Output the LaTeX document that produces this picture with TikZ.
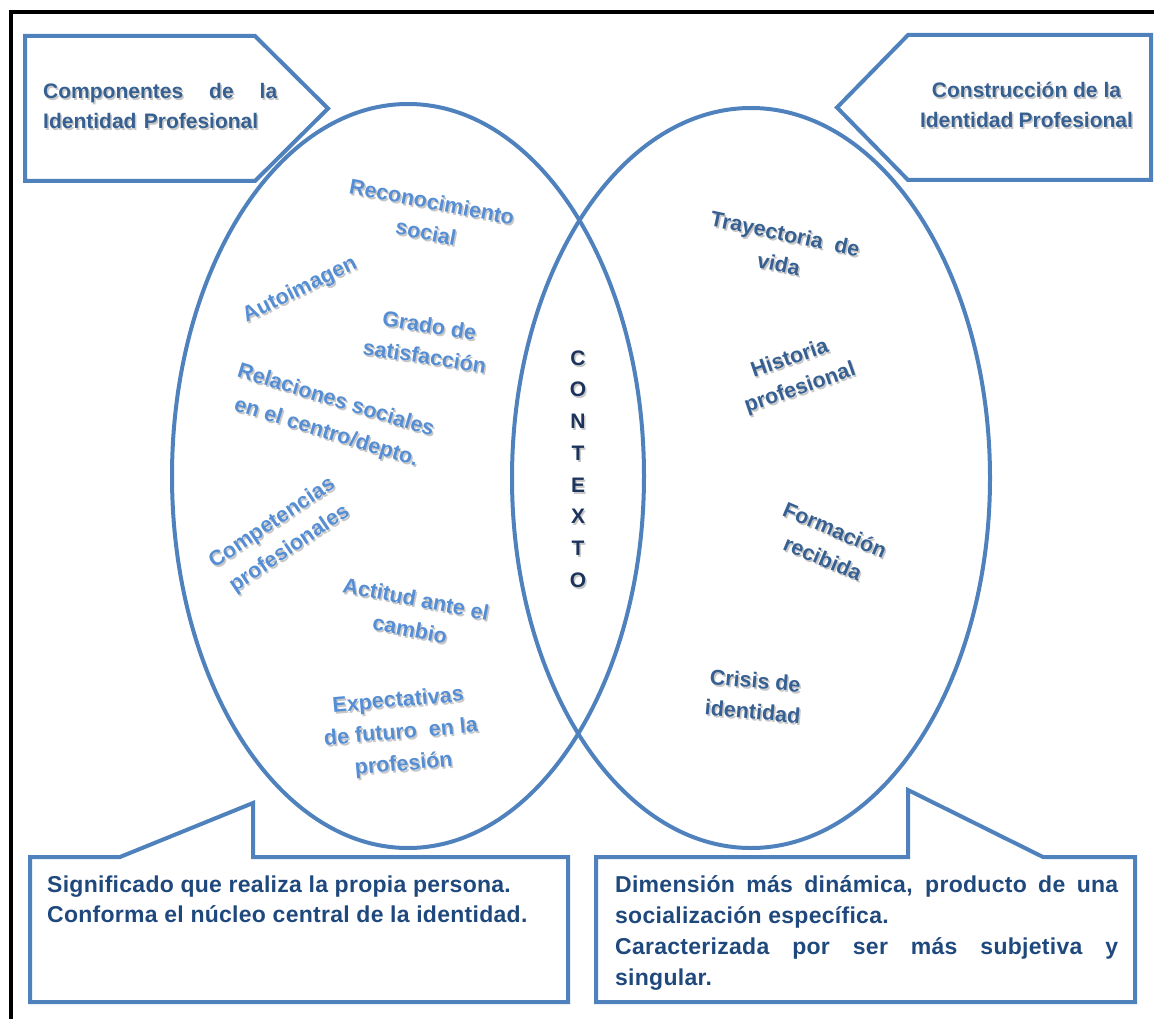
\documentclass[tikz,border=0pt]{standalone}
\usepackage{fontspec}
\setmainfont{Liberation Sans}
\newfontfamily\bubblefont{Liberation Sans}[LetterSpace=1.2]
\usetikzlibrary{calc}

\definecolor{shapeblue}{RGB}{79,129,189}
\definecolor{lightword}{RGB}{85,142,213}
\definecolor{midword}{RGB}{55,96,146}
\definecolor{navyword}{RGB}{28,52,92}
\definecolor{boxtextblue}{RGB}{31,73,125}

% text with a soft drop shadow: name, position, style, text
\newcommand\softlabel[4]{%
  \node[#3, text=black, text opacity=0.22] (#1-shadow) at ($(#2)+(1.5,2)$) {#4};
  \node[#3] (#1) at (#2) {#4};
}

\tikzset{
  shape line/.style={draw=shapeblue, line width=4pt, line join=miter},
  innerword/.style={font=\bfseries\fontsize{21.5}{31}\selectfont, align=center, inner sep=0pt},
  leftword/.style={innerword, text=lightword},
  rightword/.style={innerword, text=midword},
  titleword/.style={font=\bfseries\fontsize{21}{30}\selectfont, text=midword, inner sep=0pt},
  letterword/.style={font=\bfseries\fontsize{21}{31.7}\selectfont, text=navyword, align=center, inner sep=0pt},
  boxword/.style={font=\bubblefont\bfseries\fontsize{23}{30}\selectfont, text=boxtextblue, inner sep=0pt, align=left},
}

\begin{document}
\begin{tikzpicture}[x=1pt, y=-1pt]
\useasboundingbox (0,0) rectangle (1154,1019);

% outer frame (top and left edges)
\draw[line width=4pt, line join=miter] (10.5,1019) -- (10.5,12.5) -- (1154,12.5);

% the two overlapping ellipses
\draw[shape line] (408,476) ellipse [x radius=236, y radius=372];
\draw[shape line] (751,478) ellipse [x radius=239, y radius=370];

% heading arrows
\draw[shape line] (25,36) -- (255,36) -- (328,108.5) -- (255,181) -- (25,181) -- cycle;
\draw[shape line] (1151,35) -- (1151,180) -- (908,180) -- (837,107.5) -- (908,35) -- cycle;

% speech-bubble boxes
\draw[shape line] (30,857) -- (120,857) -- (253,803) -- (253,857) -- (568,857)
  -- (568,1002) -- (30,1002) -- cycle;
\draw[shape line] (596,857) -- (908,857) -- (908,790) -- (1043,857) -- (1135,857)
  -- (1135,1002) -- (596,1002) -- cycle;

% headings
\softlabel{compTitle}{43,83.5}{titleword, anchor=north west, align=left}
  {\makebox[234pt][s]{Componentes de la}\\\makebox[215pt][s]{Identidad Profesional}}
\softlabel{constTitle}{1026.5,82}{titleword, anchor=north, align=center}
  {Construcción de la\\\makebox[213pt][s]{Identidad Profesional}}

% components of professional identity
\softlabel{recon}{429,217}{leftword, rotate=-11}{Reconocimiento\\social}
\softlabel{autoimg}{300,290}{leftword, rotate=26}{Autoimagen}
\softlabel{grado}{427,341}{leftword, rotate=-9}{Grado de\\satisfacción}
\softlabel{relac}{331,417}{leftword, rotate=-17, font=\bfseries\fontsize{21.5}{33}\selectfont}
  {Relaciones sociales\\en el centro/depto.}
\softlabel{compet}{281,536}{leftword, rotate=34}{Competencias\\profesionales}
\softlabel{actit}{413,614}{leftword, rotate=-11}{Actitud ante el\\cambio}
\softlabel{expect}{401,733}{leftword, rotate=5, font=\bfseries\fontsize{21.5}{32}\selectfont}
  {Expectativas\\de futuro\ \ en la\\profesión}

% construction of professional identity
\softlabel{trayect}{782,249}{rightword, rotate=-12}{Trayectoria\ \ de\\vida}
\softlabel{histor}{795,374}{rightword, rotate=19}{Historia\\profesional}
\softlabel{formac}{829,544}{rightword, rotate=-23}{Formación\\recibida}
\softlabel{crisis}{754,696}{rightword, rotate=-5}{Crisis de\\identidad}

% shared context
\softlabel{contexto}{578,469}{letterword}{C\\O\\N\\T\\E\\X\\T\\O}

% bubble texts
\node[boxword, anchor=north west] (meaning) at (47,875.5)
  {Significado que realiza la propia persona.\\Conforma el núcleo central de la identidad.};
\node[boxword, anchor=north west, font=\bubblefont\bfseries\fontsize{23}{31}\selectfont] (dimension) at (615,875.5)
  {\makebox[503pt][s]{Dimensión más dinámica, producto de una}\\
   socialización específica.\\
   \makebox[503pt][s]{Caracterizada por ser más subjetiva y}\\
   singular.};
\end{tikzpicture}
\end{document}
